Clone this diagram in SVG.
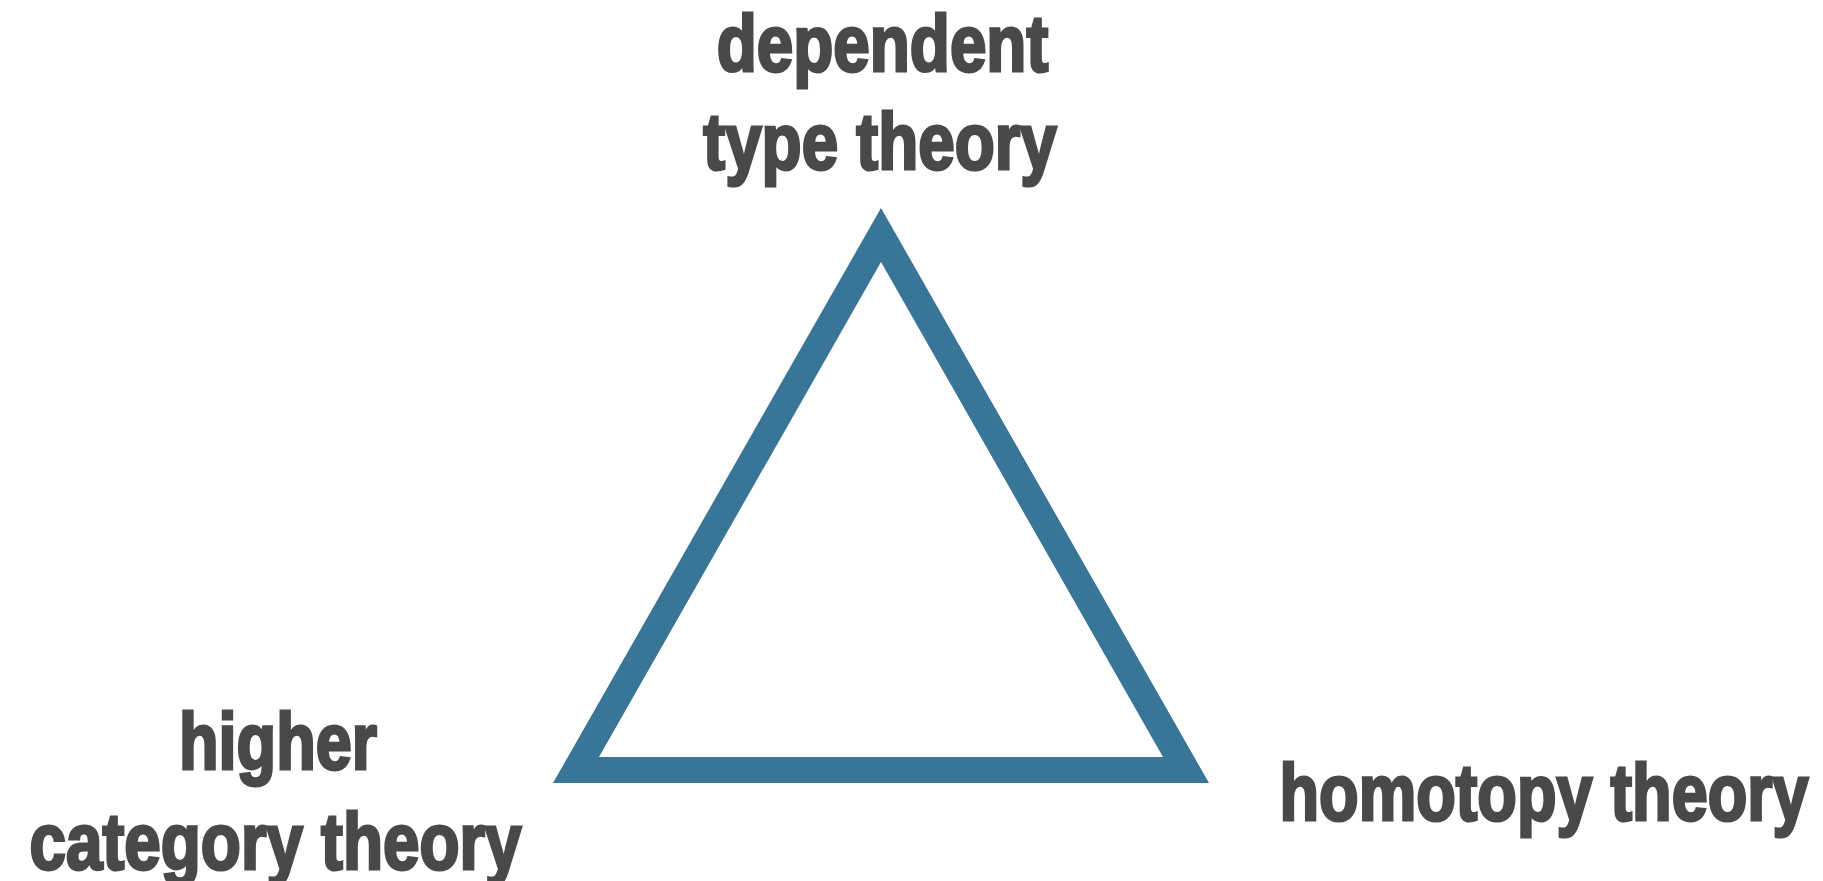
<svg xmlns="http://www.w3.org/2000/svg" width="1823" height="881" viewBox="0 0 1823 881">
<style>
.lbl{font-family:"Liberation Sans",Arial,sans-serif;font-weight:bold;font-size:79px;fill:#494949;stroke:#494949;stroke-width:3;stroke-linejoin:miter;text-anchor:middle}
.tri{fill:#387596;fill-rule:evenodd}
</style>
<rect width="1823" height="881" fill="#ffffff"/>
<g id="connectors">
<path class="tri" d="M881,208 L1209,783 L553,783 Z M881,262 L599,757 L1163,757 Z"/>
</g>
<g id="node-dtt">
<text class="lbl" transform="translate(882.5,71) scale(0.83,1)">dependent</text>
<text class="lbl" transform="translate(880,169) scale(0.83,1)">type theory</text>
</g>
<g id="node-hct">
<text class="lbl" transform="translate(278,769) scale(0.82,1)">higher</text>
<text class="lbl" transform="translate(275.5,869) scale(0.83,1)">category theory</text>
</g>
<g id="node-ht">
<text class="lbl" transform="translate(1544,820) scale(0.82,1)">homotopy theory</text>
</g>
</svg>
